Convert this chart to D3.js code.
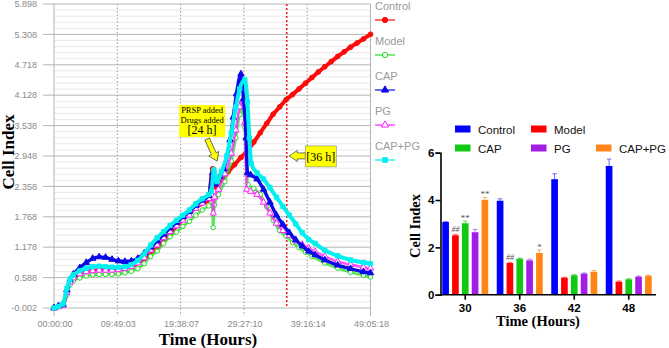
<!DOCTYPE html>
<html>
<head>
<meta charset="utf-8">
<script src="https://cdn.jsdelivr.net/npm/d3@7"></script>
<style>
  html, body { margin: 0; padding: 0; background: #fff; }
  svg { display: block; }
  .tick-l { font-family: Arial, "Liberation Sans", sans-serif; font-size: 9px; fill: #8a8a8a; }
  .ttl { font-family: "Liberation Serif", "Times New Roman", serif; font-weight: bold; fill: #000; }
  .bar-tick { font-family: Arial, "Liberation Sans", sans-serif; font-size: 11.5px; font-weight: bold; fill: #000; }
</style>
</head>
<body>
<div id="chart"></div>
<script>
// ---- left chart: real-time cell index curves ([hours, cell index]) ----
const xTickHours = [0, 9.8175, 19.6353, 29.4528, 39.2706, 49.0883];
const xTickLabels = ['00:00:00', '09:49:03', '19:38:07', '29:27:10', '39:16:14', '49:05:18'];
const yTickValues = [-0.002, 0.588, 1.178, 1.768, 2.358, 2.948, 3.538, 4.128, 4.718, 5.308, 5.898];

const controlPts = [[0,0],[0.7,0.03],[1.4,0.06],[2,0.3],[2.5,0.5],[3,0.58],[4,0.66],[6,0.72],[8,0.74],[10,0.76],[12,0.8],[14,0.96],[16,1.18],[18,1.45],[20,1.72],[22,1.96],[24,2.1],[24.6,2.7],[25,2.35],[26,2.5],[27,2.64],[28,2.78],[29,2.92],[30,3.05],[31,3.22],[32,3.4],[33,3.58],[34,3.76],[35,3.9],[36,4.04],[37,4.14],[38,4.25],[39,4.36],[40,4.47],[41,4.58],[42,4.68],[43,4.78],[44,4.88],[45,4.97],[46,5.06],[47,5.14],[48,5.22],[49.09,5.31]];
const modelPts = [[0,0],[0.7,0.03],[1.4,0.06],[2,0.25],[2.5,0.45],[3,0.52],[4,0.58],[5,0.62],[6,0.64],[7,0.65],[8,0.65],[9,0.65],[10,0.66],[11,0.68],[12,0.71],[13,0.76],[14,0.86],[15,1.0],[16,1.1],[17,1.25],[18,1.38],[19,1.47],[20,1.58],[21,1.68],[22,1.8],[23,1.9],[24,1.98],[24.5,2.05],[24.7,1.56],[24.9,2.0],[25.5,2.2],[26.5,2.45],[27.5,2.85],[28.2,3.3],[28.8,3.75],[29.2,3.9],[29.6,3.5],[30.1,2.39],[31,2.32],[32,2.2],[33,1.96],[34,1.7],[35,1.5],[36,1.39],[37,1.27],[38,1.17],[39,1.08],[40,1.0],[42,0.87],[44,0.77],[46,0.69],[48,0.63],[49.09,0.6]];
const capPts = [[0,0],[0.7,0.04],[1.4,0.07],[2,0.35],[2.5,0.55],[3,0.65],[4,0.78],[5,0.88],[6,0.96],[7,0.99],[8,0.98],[9,0.94],[10,0.91],[11,0.9],[12,0.91],[13,0.96],[14,1.06],[15,1.18],[16,1.3],[17,1.43],[18,1.55],[19,1.66],[20,1.77],[21,1.87],[22,1.99],[23,2.09],[24,2.18],[24.6,2.62],[25,2.4],[25.7,2.55],[26.3,2.7],[27.3,3.26],[27.8,3.7],[28.3,4.15],[29,4.54],[29.4,4.05],[29.8,3.3],[30,2.62],[30.5,2.58],[31.5,2.5],[32.5,2.3],[33.5,2.05],[34.5,1.8],[35.5,1.62],[36.5,1.46],[37.5,1.32],[38.5,1.2],[39.5,1.1],[40.5,1.03],[42,0.93],[44,0.83],[46,0.76],[48,0.7],[49.09,0.68]];
const pgPts = [[0,0],[0.7,0.02],[1.4,0.05],[2,0.3],[2.5,0.5],[3,0.58],[4,0.66],[5,0.7],[6,0.72],[7,0.73],[8,0.73],[9,0.73],[10,0.74],[11,0.76],[12,0.8],[13,0.87],[14,0.97],[15,1.12],[16,1.22],[17,1.36],[18,1.48],[19,1.59],[20,1.7],[21,1.8],[22,1.93],[23,2.03],[24,2.12],[24.5,2.18],[24.7,1.84],[24.9,2.15],[25.5,2.3],[26.5,2.6],[27.5,3.0],[28.2,3.45],[28.8,3.9],[29.2,4.02],[29.6,3.6],[29.9,2.3],[30.5,2.26],[31.5,2.2],[32.5,2.05],[33.5,1.84],[34.5,1.64],[35.5,1.5],[36.5,1.4],[37.5,1.3],[38.5,1.23],[39.5,1.16],[40.5,1.09],[42,1.0],[44,0.9],[46,0.84],[48,0.79],[49.09,0.77]];
const capPgPts = [[0,0],[0.7,0.03],[1.4,0.08],[2,0.38],[2.5,0.56],[3,0.64],[4,0.72],[5,0.77],[6,0.8],[7,0.81],[8,0.8],[9,0.79],[10,0.79],[11,0.8],[12,0.84],[13,0.92],[14,1.05],[15,1.22],[16,1.36],[17,1.48],[18,1.6],[19,1.7],[20,1.8],[21,1.9],[22,2.02],[23,2.12],[24,2.2],[24.4,2.26],[24.8,2.68],[25.3,2.45],[26,2.65],[26.8,2.95],[27.5,3.4],[28.2,3.9],[28.8,4.25],[29.6,4.43],[30,4.0],[30.3,3.3],[30.6,2.8],[31.5,2.62],[32.5,2.5],[33.5,2.33],[34.5,2.15],[35.5,1.97],[36.5,1.8],[37.5,1.63],[38.5,1.46],[39.5,1.33],[40.5,1.25],[42,1.12],[44,1.01],[46,0.93],[48,0.88],[49.09,0.86]];

// ---- right chart: cell index at fixed time points ----
const barGroups = ['30', '36', '42', '48'];
const barNames = ['Control', 'Model', 'CAP', 'PG', 'CAP+PG'];
const barControl = [3.07, 3.97, 4.88, 5.44];
const barModel = [2.51, 1.34, 0.72, 0.55];
const barCap = [3.02, 1.52, 0.82, 0.65];
const barPg = [2.64, 1.45, 0.89, 0.76];
const barCapPg = [4.01, 1.76, 0.97, 0.80];
const errControl = [0.02, 0.08, 0.23, 0.29];
const errModel = [0.04, 0.03, 0.02, 0.03];
const errCap = [0.09, 0.03, 0.03, 0.03];
const errPg = [0.12, 0.05, 0.03, 0.03];
const errCapPg = [0.1, 0.13, 0.05, 0.03];
const sigMarks = [['30','Model','##'],['30','CAP','**'],['30','CAP+PG','**'],['36','Model','##'],['36','CAP+PG','*']];

const W = 669, H = 348;
const svg = d3.select('#chart').append('svg').attr('width', W).attr('height', H);

// ================= left chart =================
(function(){
  const x = d3.scaleLinear().domain([0, 49.0883]).range([54, 370.5]);
  const y = d3.scaleLinear().domain([-0.002, 5.898]).range([308, 4]);
  const g = svg.append('g');

  // minor horizontal grid
  const minor = [];
  for (let i = 0; i < yTickValues.length - 1; i++)
    for (let k = 1; k < 5; k++) minor.push(yTickValues[i] + k * 0.118);
  g.selectAll('.minor').data(minor).join('line')
    .attr('x1', x(0)).attr('x2', x(49.0883))
    .attr('y1', d => y(d)).attr('y2', d => y(d))
    .attr('stroke', '#e8e8e8').attr('stroke-width', 1);
  // major horizontal grid
  g.selectAll('.major').data(yTickValues).join('line')
    .attr('x1', x(0) - 11).attr('x2', x(49.0883))
    .attr('y1', d => y(d)).attr('y2', d => y(d))
    .attr('stroke', '#b4b4b4').attr('stroke-width', 1);
  // vertical grid
  g.selectAll('.vgrid').data(xTickHours).join('line')
    .attr('x1', d => x(d)).attr('x2', d => x(d))
    .attr('y1', y(5.898)).attr('y2', y(-0.002) + 8)
    .attr('stroke', (d, i) => (i === 0 || i === xTickHours.length - 1) ? '#b4b4b4' : '#9a9a9a')
    .attr('stroke-width', 1)
    .attr('stroke-dasharray', (d, i) => (i === 0 || i === xTickHours.length - 1) ? null : '1.5,2');

  g.selectAll('.ylab').data(yTickValues).join('text').attr('class', 'tick-l')
    .attr('x', 37).attr('y', d => y(d) + 3.2).attr('text-anchor', 'end')
    .text(d => d.toFixed(3));
  g.selectAll('.xlab').data(xTickHours).join('text').attr('class', 'tick-l')
    .attr('x', d => x(d) + 1).attr('y', 326.5).attr('text-anchor', 'middle')
    .attr('font-size', 8.6)
    .text((d, i) => xTickLabels[i]);

  // 36 h red marker line
  g.append('line').attr('x1', x(36.1)).attr('x2', x(36.1))
    .attr('y1', y(5.898)).attr('y2', y(-0.002))
    .attr('stroke', '#ff2020').attr('stroke-width', 1.6).attr('stroke-dasharray', '2,2');

  const series = [
    { name: 'Control', pts: controlPts, color: '#ff0a0a', sym: d3.symbolCircle, fill: true, size: 18, lw: 4 },
    { name: 'Model', pts: modelPts, color: '#22dd22', sym: d3.symbolCircle, fill: false, size: 16, lw: 2.6 },
    { name: 'CAP', pts: capPts, color: '#0a0ae6', sym: d3.symbolTriangle, fill: true, size: 18, lw: 3.4 },
    { name: 'PG', pts: pgPts, color: '#ff22ff', sym: d3.symbolTriangle, fill: false, size: 18, lw: 2.6 },
    { name: 'CAP+PG', pts: capPgPts, color: '#00f0f0', sym: d3.symbolSquare, fill: true, size: 18, lw: 4 }
  ];
  const drawOrder = ['Control', 'Model', 'PG', 'CAP', 'CAP+PG'];
  const line = d3.line().curve(d3.curveMonotoneX).x(d => x(d[0])).y(d => y(d[1]));

  drawOrder.forEach(n => {
    const s = series.find(v => v.name === n);
    const sg = g.append('g');
    sg.append('path').attr('d', line(s.pts)).attr('fill', 'none')
      .attr('stroke', s.color).attr('stroke-width', s.lw).attr('stroke-linejoin', 'round')
      .attr('stroke-opacity', s.fill ? 1 : 0.75);
    sg.selectAll('path.m').data(s.pts).join('path').attr('class', 'm')
      .attr('transform', d => `translate(${x(d[0])},${y(d[1])})`)
      .attr('d', d3.symbol().type(s.sym).size(s.size))
      .attr('fill', s.fill ? s.color : '#fff')
      .attr('stroke', s.color).attr('stroke-width', 1);
  });

  // legend
  const lg = g.append('g');
  series.forEach((s, i) => {
    const yy = 6 + i * 35;
    lg.append('text').attr('x', 375).attr('y', yy + 4).attr('font-family', 'Arial, sans-serif')
      .attr('font-size', 11).attr('fill', '#9a9a9a').text(s.name);
    lg.append('line').attr('x1', 375).attr('x2', 395).attr('y1', yy + 14).attr('y2', yy + 14)
      .attr('stroke', s.color).attr('stroke-width', 1.2);
    lg.append('path').attr('transform', `translate(385,${yy + 14})`)
      .attr('d', d3.symbol().type(s.sym).size(22))
      .attr('fill', s.fill ? s.color : '#fff').attr('stroke', s.color).attr('stroke-width', 1);
  });

  // block arrow helper
  function blockArrow(x0, y0, x1, y1, sw, hw, hl) {
    const len = Math.hypot(x1 - x0, y1 - y0);
    const ang = Math.atan2(y1 - y0, x1 - x0) * 180 / Math.PI;
    const p = [[0, -sw/2], [len - hl, -sw/2], [len - hl, -hw/2], [len, 0], [len - hl, hw/2], [len - hl, sw/2], [0, sw/2]];
    g.append('path').attr('d', 'M' + p.map(q => q.join(',')).join('L') + 'Z')
      .attr('transform', `translate(${x0},${y0}) rotate(${ang})`)
      .attr('fill', '#ffff00').attr('stroke', '#555').attr('stroke-width', 0.8);
  }

  // [24 h] annotation
  const tip24 = [x(25.3), y(2.85)];
  blockArrow(tip24[0] - 10, tip24[1] - 22, tip24[0], tip24[1], 5, 11, 8);
  g.append('rect').attr('x', tip24[0] - 38).attr('y', tip24[1] - 56).attr('width', 46).attr('height', 32)
    .attr('fill', '#ffff00');
  const a24 = g.append('g').attr('font-family', '"Liberation Serif", "Times New Roman", serif').attr('text-anchor', 'middle');
  a24.append('text').attr('x', tip24[0] - 15).attr('y', tip24[1] - 48).attr('font-size', 8.5).text('PRSP added');
  a24.append('text').attr('x', tip24[0] - 15).attr('y', tip24[1] - 38.5).attr('font-size', 8.5).text('Drugs added');
  a24.append('text').attr('x', tip24[0] - 15).attr('y', tip24[1] - 27).attr('font-size', 12).text('[24 h]');

  // [36 h] annotation
  const tip36 = [x(36.1) + 2.5, y(2.95)];
  blockArrow(tip36[0] + 16, tip36[1], tip36[0], tip36[1], 6, 11, 8);
  g.append('rect').attr('x', tip36[0] + 16).attr('y', tip36[1] - 10).attr('width', 31).attr('height', 21)
    .attr('fill', '#ffff00').attr('stroke', '#888').attr('stroke-width', 0.6);
  g.append('text').attr('x', tip36[0] + 31.5).attr('y', tip36[1] + 5)
    .attr('font-family', '"Liberation Serif", "Times New Roman", serif').attr('font-size', 12)
    .attr('text-anchor', 'middle').text('[36 h]');

  // axis titles
  g.append('text').attr('class', 'ttl').attr('font-size', 17)
    .attr('transform', `translate(14,152) rotate(-90)`).attr('text-anchor', 'middle').text('Cell Index');
  g.append('text').attr('class', 'ttl').attr('font-size', 17)
    .attr('x', 208).attr('y', 345).attr('text-anchor', 'middle').text('Time (Hours)');
})();

// ================= right chart =================
(function(){
  const means = { 'Control': barControl, 'Model': barModel, 'CAP': barCap, 'PG': barPg, 'CAP+PG': barCapPg };
  const errs = { 'Control': errControl, 'Model': errModel, 'CAP': errCap, 'PG': errPg, 'CAP+PG': errCapPg };
  const colors = { 'Control': '#0000ff', 'Model': '#ff0000', 'CAP': '#12c812', 'PG': '#a21ee6', 'CAP+PG': '#ff8516' };
  const errColors = { 'Control': '#6a6aff', 'Model': '#ff6a6a', 'CAP': '#60d860', 'PG': '#c070f0', 'CAP+PG': '#ffb060' };

  const x0 = d3.scaleBand().domain(barGroups).range([438, 656]);
  const x1 = d3.scaleBand().domain(barNames).range([-23, 23]).paddingInner(0.32);
  const y = d3.scaleLinear().domain([0, 6]).range([294.7, 152.7]);
  const g = svg.append('g');

  const rows = [];
  barGroups.forEach((grp, gi) => barNames.forEach(n => rows.push({ grp, n, v: means[n][gi], e: errs[n][gi] })));
  const bx = d => x0(d.grp) + x0.bandwidth() / 2 + x1(d.n);

  // error bars
  g.selectAll('.eb').data(rows).join('g').each(function(d){
    const cx = bx(d) + x1.bandwidth() / 2;
    const s = d3.select(this);
    s.append('line').attr('x1', cx).attr('x2', cx).attr('y1', y(d.v)).attr('y2', y(d.v + d.e))
      .attr('stroke', errColors[d.n]).attr('stroke-width', 1);
    s.append('line').attr('x1', cx - 2.2).attr('x2', cx + 2.2).attr('y1', y(d.v + d.e)).attr('y2', y(d.v + d.e))
      .attr('stroke', errColors[d.n]).attr('stroke-width', 1);
  });
  g.selectAll('.bar').data(rows).join('rect')
    .attr('x', d => bx(d)).attr('width', x1.bandwidth())
    .attr('y', d => y(d.v)).attr('height', d => y(0) - y(d.v))
    .attr('fill', d => colors[d.n]);

  // significance marks
  g.selectAll('.sig').data(sigMarks).join('text')
    .attr('x', d => x0(d[0]) + x0.bandwidth() / 2 + x1(d[1]) + x1.bandwidth() / 2)
    .attr('y', d => {
      const gi = barGroups.indexOf(d[0]);
      return y(means[d[1]][gi] + errs[d[1]][gi]) - (d[2][0] === '#' ? 2 : 0);
    })
    .attr('text-anchor', 'middle').attr('font-family', '"Liberation Serif", serif')
    .attr('font-style', d => d[2][0] === '#' ? 'italic' : 'normal')
    .attr('font-size', d => d[2][0] === '#' ? 8 : 9).attr('fill', '#555').text(d => d[2]);

  // axes
  const ya = g.append('g').attr('transform', 'translate(440.5,0)')
    .call(d3.axisLeft(y).tickValues([0, 2, 4, 6]).tickSize(5).tickFormat(d3.format('d')));
  ya.select('.domain').attr('stroke-width', 1.6);
  ya.selectAll('.tick line').attr('stroke-width', 1.6);
  ya.selectAll('.tick text').attr('class', 'bar-tick').attr('x', -6);
  const xa = g.append('g').attr('transform', `translate(0,${y(0)})`)
    .call(d3.axisBottom(x0).tickSize(5).tickSizeOuter(0));
  xa.select('.domain').attr('d', `M440.5,0H656`).attr('stroke-width', 1.6);
  xa.selectAll('.tick line').attr('stroke-width', 1.6);
  xa.selectAll('.tick text').attr('class', 'bar-tick').attr('font-size', 12).attr('y', 9);

  g.append('text').attr('class', 'ttl').attr('font-size', 14.5)
    .attr('transform', 'translate(420,226) rotate(-90)').attr('text-anchor', 'middle').text('Cell Index');
  g.append('text').attr('class', 'ttl').attr('font-size', 14.5)
    .attr('x', 538).attr('y', 326).attr('text-anchor', 'middle').text('Time (Hours)');

  // legend
  const legendPos = [[455, 129], [531, 129], [455, 148], [531, 148], [596, 148]];
  barNames.forEach((n, i) => {
    const [lx, ly] = legendPos[i];
    g.append('rect').attr('x', lx).attr('y', ly - 3.5).attr('width', 15.5).attr('height', 7).attr('fill', colors[n]);
    g.append('text').attr('x', lx + 23).attr('y', ly + 4.5).attr('font-family', 'Arial, sans-serif')
      .attr('font-size', 11.5).attr('fill', '#111').text(n);
  });
})();
</script>
</body>
</html>
